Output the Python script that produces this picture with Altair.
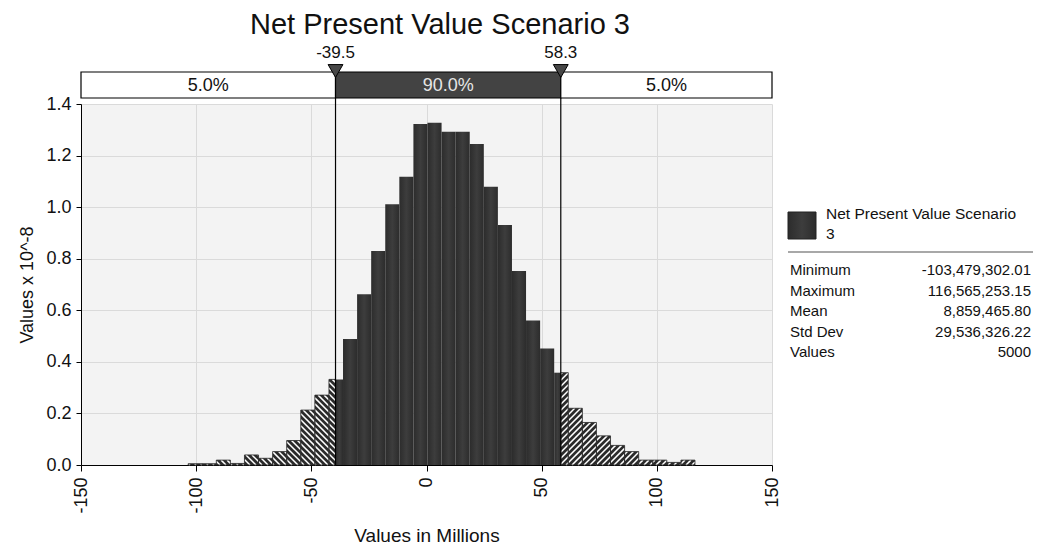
import math
import altair as alt
import numpy as np
import pandas as pd

# ---------------- data (values in millions, density x 10^-8) ----------------
val_min = -103.47930201
val_max = 116.56525315
n_bins = 36
density = [0.005, 0.005, 0.019, 0.006, 0.039, 0.026, 0.052, 0.095, 0.213, 0.271,
           0.332, 0.489, 0.662, 0.830, 1.011, 1.118, 1.322, 1.327, 1.292, 1.292,
           1.245, 1.079, 0.931, 0.752, 0.560, 0.452, 0.358, 0.220, 0.165, 0.113,
           0.076, 0.052, 0.019, 0.019, 0.010, 0.019]
p_low = -39.5
p_high = 58.3
band_labels = ["5.0%", "90.0%", "5.0%"]
marker_labels = ["-39.5", "58.3"]
series_name = "Net Present Value Scenario 3"
stat_names = ["Minimum", "Maximum", "Mean", "Std Dev", "Values"]
stat_values = ["-103,479,302.01", "116,565,253.15", "8,859,465.80", "29,536,326.22", "5000"]
x_ticks = [-150, -100, -50, 0, 50, 100, 150]
y_ticks = [0.0, 0.2, 0.4, 0.6, 0.8, 1.0, 1.2, 1.4]

# ---------------- layout / style ----------------
W, H = 691, 361
XD = (-150, 150)
YD = (0, 1.4)
FONT = "Liberation Sans"

edges = np.linspace(val_min, val_max, n_bins + 1)
pieces = []
for i, h in enumerate(density):
    a, b = edges[i], edges[i + 1]
    if a < p_low:
        pieces.append(dict(x0=a, x1=min(b, p_low), h=h, kind="low"))
    lo, hi = max(a, p_low), min(b, p_high)
    if lo < hi:
        pieces.append(dict(x0=lo, x1=hi, h=h, kind="mid"))
    if b > p_high:
        pieces.append(dict(x0=max(a, p_high), x1=b, h=h, kind="high"))
df_bins = pd.DataFrame(pieces)
df_mid = df_bins[df_bins.kind == "mid"]
df_tail = df_bins[df_bins.kind != "mid"]

# hatch segments derived from the tail bars (45 degree lines in screen space)
def px(v): return (v - XD[0]) / (XD[1] - XD[0]) * W
def py(h): return H - (h - YD[0]) / (YD[1] - YD[0]) * H
def vx(X): return X / W * (XD[1] - XD[0]) + XD[0]
def vy(Y): return (H - Y) / H * (YD[1] - YD[0]) + YD[0]

P = 6.0
segs = []
for r in df_tail.itertuples():
    X0, X1, Yt, Yb = px(r.x0), px(r.x1), py(r.h), py(0)
    if r.kind == "low":
        for k in range(math.ceil((Yt - X1) / P), math.floor((Yb - X0) / P) + 1):
            c = k * P
            xl, xh = max(X0, Yt - c), min(X1, Yb - c)
            if xh - xl > 0.4:
                segs.append(dict(a=vx(xl), b=vx(xh), ya=vy(xl + c), yb=vy(xh + c)))
    else:
        for k in range(math.ceil((X0 + Yt) / P), math.floor((X1 + Yb) / P) + 1):
            c = k * P
            xl, xh = max(X0, c - Yb), min(X1, c - Yt)
            if xh - xl > 0.4:
                segs.append(dict(a=vx(xl), b=vx(xh), ya=vy(c - xl), yb=vy(c - xh)))
df_hatch = pd.DataFrame(segs)

xs = alt.Scale(domain=list(XD), nice=False, zero=False)
ys = alt.Scale(domain=list(YD), nice=False, zero=False)
XT = "Values in Millions"
YT = "Values x 10^-8"

bar_grad = alt.Gradient(gradient="linear", x1=0, x2=1, y1=0, y2=0,
                        stops=[alt.GradientStop(color="#2c2c2c", offset=0),
                               alt.GradientStop(color="#3d3d3d", offset=0.5),
                               alt.GradientStop(color="#2c2c2c", offset=1)])

mid_bars = alt.Chart(df_mid).mark_rect(fill=bar_grad).encode(
    x=alt.X("x0:Q", scale=xs, title=XT,
            axis=alt.Axis(values=x_ticks, labelAngle=270, grid=True, gridColor="#dadada",
                          labelExpr="'' + datum.value",
                          domainColor="black", tickColor="black", tickSize=6,
                          labelPadding=6, labelFontSize=18, labelFont=FONT, labelColor="#111",
                          titleFont=FONT, titleFontSize=19, titleFontWeight="normal",
                          titleColor="#111", titleBaseline="alphabetic", titleY=76)),
    x2="x1:Q",
    y=alt.Y("h:Q", scale=ys, title=YT,
            axis=alt.Axis(values=y_ticks, format=".1f", grid=True, gridColor="#dadada",
                          domainColor="black", tickColor="black", tickSize=5,
                          labelPadding=5, labelFontSize=18, labelFont=FONT, labelColor="#111",
                          titleFont=FONT, titleFontSize=18, titleFontWeight="normal",
                          titleColor="#111", titlePadding=9)),
    y2=alt.datum(0),
)

tail_bars = alt.Chart(df_tail).mark_rect(fill="#2b2b2b").encode(
    x=alt.X("x0:Q", scale=xs, title=XT), x2="x1:Q",
    y=alt.Y("h:Q", scale=ys, title=YT), y2=alt.datum(0),
)

hatch = alt.Chart(df_hatch).mark_rule(color="white", strokeWidth=1.5).encode(
    x=alt.X("a:Q", scale=xs, title=XT), x2="b:Q",
    y=alt.Y("ya:Q", scale=ys, title=YT), y2="yb:Q",
)

tail_outline = alt.Chart(df_tail).mark_rect(fillOpacity=0, stroke="#2b2b2b", strokeWidth=0.8).encode(
    x=alt.X("x0:Q", scale=xs, title=XT), x2="x1:Q",
    y=alt.Y("h:Q", scale=ys, title=YT), y2=alt.datum(0),
)

df_band = pd.DataFrame({
    "x0": [XD[0], p_low, p_high], "x1": [p_low, p_high, XD[1]],
    "label": band_labels,
    "fill": ["white", "#434343", "white"],
    "tc": ["#111", "#e6e6e6", "#111"],
})
df_band["xm"] = (df_band.x0 + df_band.x1) / 2

band = alt.Chart(df_band).mark_rect(stroke="black", strokeWidth=1.2).encode(
    x=alt.X("x0:Q", scale=xs, title=XT), x2="x1:Q",
    y=alt.value(-32), y2=alt.value(-6),
    fill=alt.Fill("fill:N", scale=None),
)
band_text = alt.Chart(df_band).mark_text(font=FONT, fontSize=18, baseline="middle").encode(
    x=alt.X("xm:Q", scale=xs, title=XT), y=alt.value(-18),
    text="label:N", color=alt.Color("tc:N", scale=None),
)

df_mark = pd.DataFrame({"x": [p_low, p_high], "label": marker_labels})
vlines = alt.Chart(df_mark).mark_rule(color="black", strokeWidth=1.2).encode(
    x=alt.X("x:Q", scale=xs, title=XT), y=alt.value(-32), y2=alt.value(H),
)
tri = alt.Chart(df_mark).mark_point(shape="triangle-down", filled=True, fill="#474747",
                                    stroke="black", strokeWidth=1, size=220, opacity=1).encode(
    x=alt.X("x:Q", scale=xs, title=XT), y=alt.value(-33),
)
tri_text = alt.Chart(df_mark).mark_text(font=FONT, fontSize=17, baseline="middle", color="#111").encode(
    x=alt.X("x:Q", scale=xs, title=XT), y=alt.value(-51), text="label:N",
)

df_title = pd.DataFrame({"t": [series_name]})
title = alt.Chart(df_title).mark_text(font=FONT, fontSize=29, baseline="alphabetic", color="#111").encode(
    x=alt.value(359), y=alt.value(-70), text="t:N",
)

# legend / statistics panel
swatch = alt.Chart(df_title).mark_rect(fill=bar_grad, stroke="#222", strokeWidth=1).encode(
    x=alt.value(707), x2=alt.value(735), y=alt.value(108), y2=alt.value(135),
)
df_leg = pd.DataFrame({"t": ["\n".join(series_name.rsplit(" ", 1))]})
leg_text = alt.Chart(df_leg).mark_text(font=FONT, fontSize=15.5, align="left", baseline="top",
                                       lineBreak="\n", lineHeight=20, color="#111").encode(
    x=alt.value(745), y=alt.value(103), text="t:N",
)
sep = alt.Chart(df_title).mark_rule(color="#a8a8a8", strokeWidth=2).encode(
    x=alt.value(707), x2=alt.value(952), y=alt.value(148),
)
df_stats = pd.DataFrame({"n": ["\n".join(stat_names)], "v": ["\n".join(stat_values)]})
stats_names = alt.Chart(df_stats).mark_text(font=FONT, fontSize=15, align="left", baseline="top",
                                            lineBreak="\n", lineHeight=20.5, color="#111").encode(
    x=alt.value(709), y=alt.value(159), text="n:N",
)
stats_vals = alt.Chart(df_stats).mark_text(font=FONT, fontSize=15, align="right", baseline="top",
                                           lineBreak="\n", lineHeight=20.5, color="#111").encode(
    x=alt.value(950), y=alt.value(159), text="v:N",
)

chart = alt.layer(
    mid_bars, tail_bars, hatch, tail_outline, vlines, band, band_text, tri, tri_text,
    title, swatch, leg_text, sep, stats_names, stats_vals,
).properties(
    width=W, height=H,
    autosize=alt.AutoSizeParams(type="none"),
    padding={"left": 73, "top": 96, "right": 261, "bottom": 80},
    background="white",
).configure_view(fill="#f3f3f3", strokeWidth=0)

chart.save("out.html", embed_options={"renderer": "svg", "actions": False})
